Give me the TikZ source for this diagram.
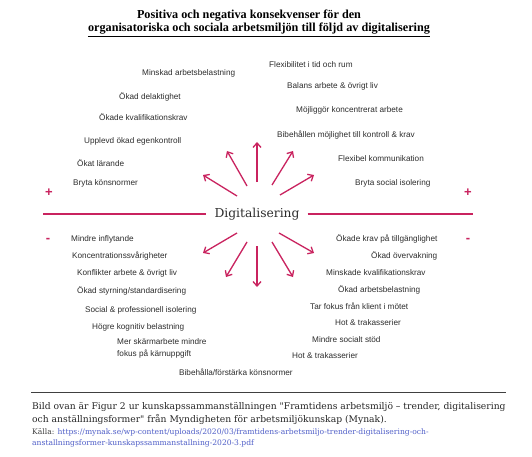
\documentclass[tikz,border=0pt]{standalone}
\usepackage{fontspec}
\setmainfont{Liberation Serif}
\newfontfamily\lblfont{Liberation Sans}
\newfontfamily\digfont{DejaVu Serif}
\usetikzlibrary{arrows.meta}
\definecolor{crim}{RGB}{201,35,95}
\definecolor{txt}{RGB}{45,45,45}
\definecolor{linkc}{RGB}{80,95,200}
\begin{document}
\begin{tikzpicture}[x=1pt,y=-1pt,
  lbl/.style={anchor=west,inner sep=0pt,text=txt,font=\lblfont\fontsize{8.2}{10}\selectfont},
  arr/.style={draw=crim,line width=1.3pt,-{Straight Barb[length=4.5pt,width=8pt]}},
  rule/.style={draw=crim,line width=1.3pt},
  sign/.style={inner sep=0pt,text=crim,font=\lblfont\bfseries\fontsize{13}{13}\selectfont},
  ttl/.style={inner sep=0pt,font=\bfseries\fontsize{12.2}{14}\selectfont},
  captxt/.style={anchor=west,inner sep=0pt,text=black!85,font=\digfont\fontsize{9.2}{11}\selectfont},
  srctxt/.style={anchor=west,inner sep=0pt,font=\digfont\fontsize{7.6}{9}\selectfont}]
\fill[white] (0,0) rectangle (532,457);
\useasboundingbox (0,0) rectangle (532,457);
% title
\node[ttl] (t1) at (249,16) {Positiva och negativa konsekvenser för den};
\node[ttl] (t2) at (259,29) {organisatoriska och sociala arbetsmiljön till följd av digitalisering};
\draw[line width=0.6pt] (t2.south west) ++(0,1.5) coordinate (u1) -- (t2.south east |- u1);
% center
\node[inner sep=0pt,text=txt,font=\digfont\fontsize{12.3}{14}\selectfont] (dig) at (257,214) {Digitalisering};
\coordinate (lL) at (43,214);
\coordinate (lR) at (473,214);
\draw[rule] (lL) -- ([xshift=-8pt]dig.west);
\draw[rule] ([xshift=8pt]dig.east) -- (lR);
\node[sign] (pl) at (49,193) {+};
\node[sign] (pr) at (468,193) {+};
\node[sign] (ml) at (48,240) {-};
\node[sign] (mr) at (468,240) {-};
% up arrows
\coordinate (ua1) at (237,196); \coordinate (ub1) at (203,175);
\coordinate (ua2) at (247,186); \coordinate (ub2) at (227,151);
\coordinate (ua3) at (257,182); \coordinate (ub3) at (257,142);
\coordinate (ua4) at (272,185); \coordinate (ub4) at (293,151);
\coordinate (ua5) at (280,195); \coordinate (ub5) at (314,175);
\foreach \i in {1,...,5} \draw[arr] (ua\i) -- (ub\i);
% down arrows
\coordinate (da1) at (237,233); \coordinate (db1) at (203,253);
\coordinate (da2) at (247,242); \coordinate (db2) at (226,277);
\coordinate (da3) at (257,246); \coordinate (db3) at (257,287);
\coordinate (da4) at (272,242); \coordinate (db4) at (293,277);
\coordinate (da5) at (279,233); \coordinate (db5) at (314,253);
\foreach \i in {1,...,5} \draw[arr] (da\i) -- (db\i);
% positive labels
\node[lbl] (p1) at (142,73) {Minskad arbetsbelastning};
\node[lbl] (p2) at (269,65) {Flexibilitet i tid och rum};
\node[lbl] (p3) at (287,86) {Balans arbete \& övrigt liv};
\node[lbl] (p4) at (119,97) {Ökad delaktighet};
\node[lbl] (p5) at (296,110) {Möjliggör koncentrerat arbete};
\node[lbl] (p6) at (99,117) {Ökade kvalifikationskrav};
\node[lbl] (p7) at (277,135) {Bibehållen möjlighet till kontroll \& krav};
\node[lbl] (p8) at (84,141) {Upplevd ökad egenkontroll};
\node[lbl] (p9) at (338,159) {Flexibel kommunikation};
\node[lbl] (p10) at (77,163) {Ökat lärande};
\node[lbl] (p11) at (73,183) {Bryta könsnormer};
\node[lbl] (p12) at (355,183) {Bryta social isolering};
% negative labels
\node[lbl] (n1) at (71,239) {Mindre inflytande};
\node[lbl] (n2) at (336,239) {Ökade krav på tillgänglighet};
\node[lbl] (n3) at (72,256) {Koncentrationssvårigheter};
\node[lbl] (n4) at (371,256) {Ökad övervakning};
\node[lbl] (n5) at (77,273) {Konflikter arbete \& övrigt liv};
\node[lbl] (n6) at (326,273) {Minskade kvalifikationskrav};
\node[lbl] (n7) at (77,291) {Ökad styrning/standardisering};
\node[lbl] (n8) at (338,290) {Ökad arbetsbelastning};
\node[lbl] (n9) at (85,310) {Social \& professionell isolering};
\node[lbl] (n10) at (310,306) {Tar fokus från klient i mötet};
\node[lbl] (n11) at (92,327) {Högre kognitiv belastning};
\node[lbl] (n12) at (335,323) {Hot \& trakasserier};
\node[lbl] (n13) at (117,342) {Mer skärmarbete mindre};
\node[lbl] (n14) at (117,354) {fokus på kärnuppgift};
\node[lbl] (n15) at (312,340) {Mindre socialt stöd};
\node[lbl] (n16) at (292,356) {Hot \& trakasserier};
\node[lbl] (n17) at (179,372) {Bibehålla/förstärka könsnormer};
% caption
\coordinate (r1) at (31,392); \coordinate (r2) at (506,392);
\draw[line width=0.8pt,draw=black!75] (r1) -- (r2);
\node[captxt] (c1) at (32,407) {Bild ovan är Figur 2 ur kunskapssammanställningen "Framtidens arbetsmiljö – trender, digitalisering};
\node[captxt] (c2) at (32,419) {och anställningsformer" från Myndigheten för arbetsmiljökunskap (Mynak).};
\node[srctxt] (s1) at (32,432) {\textcolor{black!75}{Källa:} \textcolor{linkc}{https://mynak.se/wp-content/uploads/2020/03/framtidens-arbetsmiljo-trender-digitalisering-och-}};
\node[srctxt,text=linkc] (s2) at (32,443) {anstallningsformer-kunskapssammanstallning-2020-3.pdf};
\end{tikzpicture}
\end{document}
